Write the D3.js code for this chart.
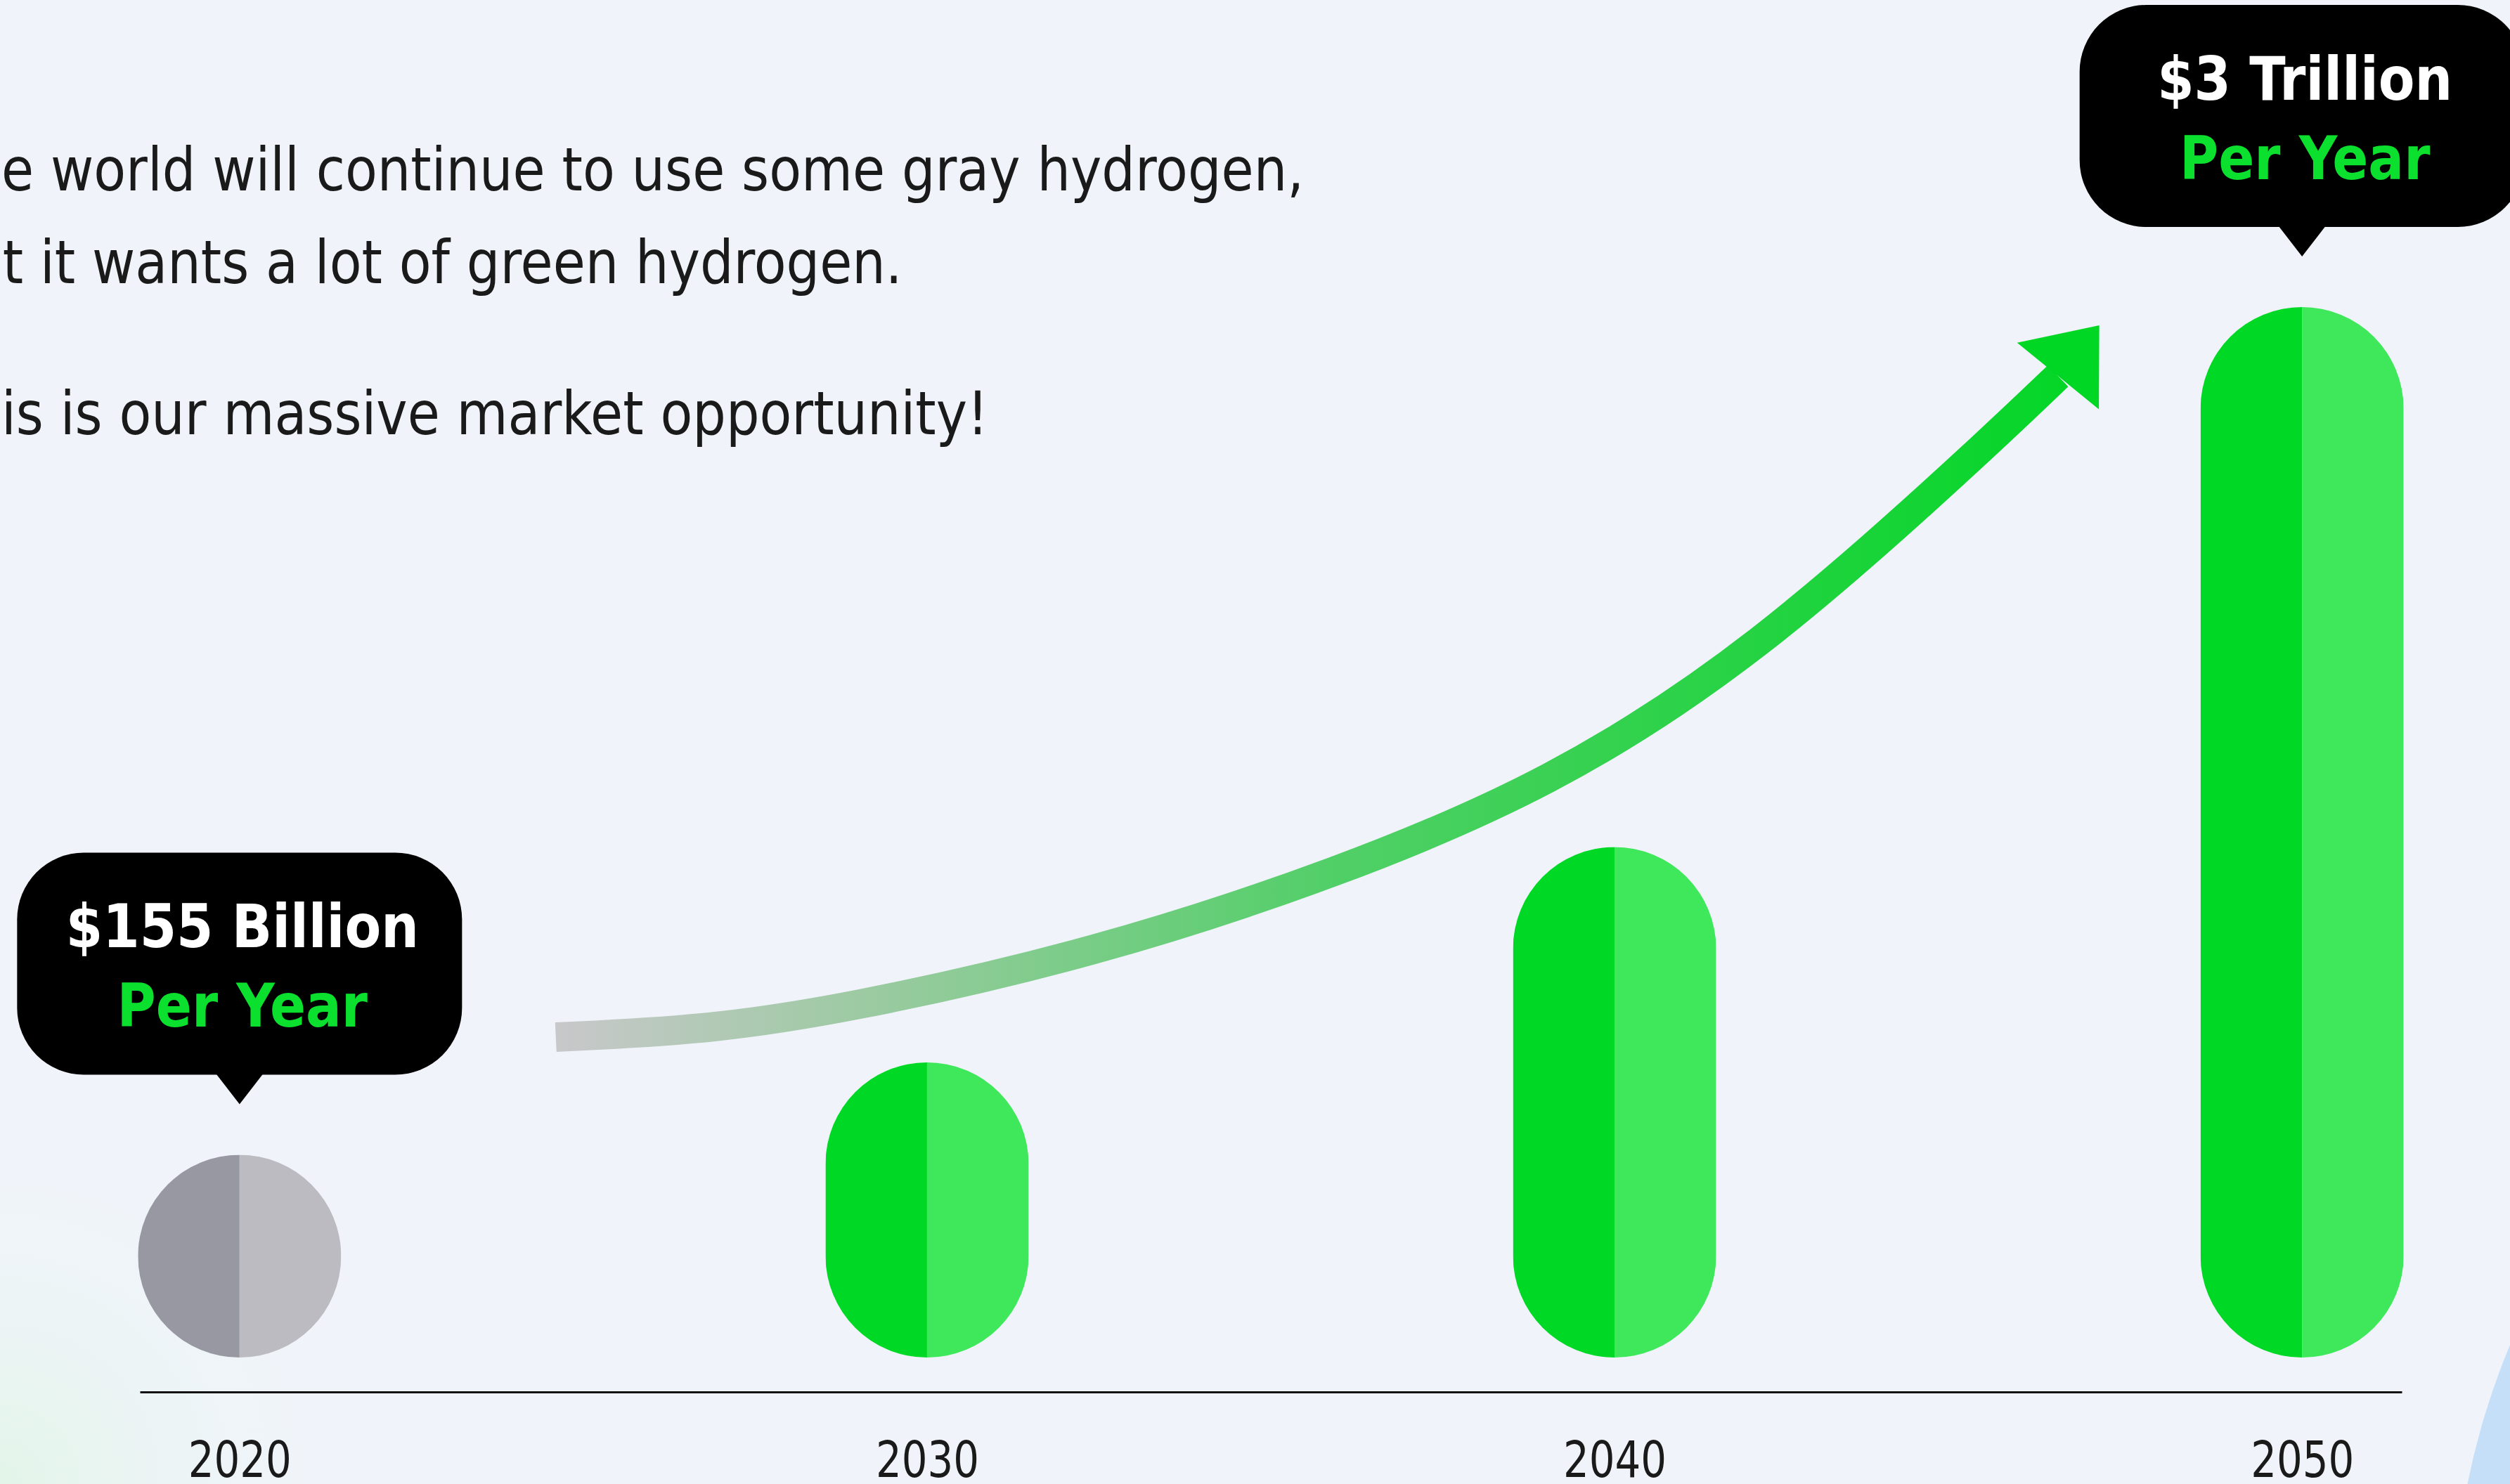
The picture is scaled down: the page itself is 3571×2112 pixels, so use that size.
<!DOCTYPE html>
<html><head><meta charset="utf-8">
<script src="https://cdn.jsdelivr.net/npm/d3@7"></script>
<style>html,body{margin:0;padding:0;background:#f0f4fa;overflow:hidden}</style>
</head><body>
<svg id="chart" width="3571" height="2112"></svg>
<script>
// ---------- data ----------
const years = ["2020", "2030", "2040", "2050"];
const relativeSize = [19.3, 28.1, 48.6, 100];          // bar heights, 2050 = 100
const barTone = ["gray", "green", "green", "green"];
const calloutYears = ["2020", "2050"];
const calloutValues = ["$155 Billion", "$3 Trillion"];
const calloutUnits = ["Per Year", "Per Year"];
const introLines = [
  "The world will continue to use some gray hydrogen,",
  "but it wants a lot of green hydrogen.",
  "This is our massive market opportunity!"
];
// growth arrow, in chart space: position along the year axis and relative size
const trendYears  = [2024.60, 2026.74, 2028.78, 2032.43, 2035.94, 2039.07, 2042.08, 2045.22, 2046.45];
const trendLevels = [30.50,   31.17,   33.11,   38.46,   46.02,   54.52,   67.22,   85.75,   93.44];
const trendTip = [2047.05, 98.26];

// ---------- setup ----------
const W = 3571, H = 2112;
const svg = d3.select("#chart");
const defs = svg.append("defs");
const palette = {
  gray:  ["#9898a2", "#bbbbc1"],
  green: ["#00d826", "#3fe85a"]
};

// background
svg.append("rect").attr("width", W).attr("height", H).attr("fill", "#f0f4fa");
const glow = defs.append("radialGradient").attr("id", "glow")
  .attr("gradientUnits", "userSpaceOnUse").attr("cx", 0).attr("cy", H).attr("r", 520);
glow.append("stop").attr("offset", 0).attr("stop-color", "#e2f5e8").attr("stop-opacity", 1);
glow.append("stop").attr("offset", 1).attr("stop-color", "#f0f4fa").attr("stop-opacity", 0);
svg.append("rect").attr("x", 0).attr("y", H - 520).attr("width", 520).attr("height", 520).attr("fill", "url(#glow)");
svg.append("circle").attr("cx", 4537).attr("cy", 2318).attr("r", 1047).attr("fill", "#c5dff8");

// scales
const x = d3.scalePoint().domain(years).range([199, 3417]).padding(0.145);
const y = d3.scaleLinear().domain([0, 100]).range([1932, 437]);
const xYear = d3.scaleLinear().domain([2020, 2050]).range([x("2020"), x("2050")]);
const barW = 289;

// ---------- intro text ----------
const tmp = svg.append("text").attr("font-family", "DejaVu Sans").attr("font-size", 85);
const measure = s => { tmp.text(s); return tmp.node().getComputedTextLength(); };
const visible1 = introLines[0].slice(2);
const sx = (1855 - 2) / measure(visible1);
const x0 = 2 - sx * measure(introLines[0].slice(0, 2));
const baselines = [271, 403, 618];
introLines.forEach((t, i) => {
  svg.append("text")
    .attr("x", x0).attr("y", baselines[i])
    .attr("font-family", "DejaVu Sans").attr("font-size", 85)
    .attr("fill", "#1a1a1a")
    .attr("textLength", sx * measure(t)).attr("lengthAdjust", "spacingAndGlyphs")
    .text(t);
});
tmp.remove();

// ---------- bars ----------
const bars = svg.append("g");
years.forEach((yr, i) => {
  const cx = x(yr), top = y(relativeSize[i]), bottom = y(0);
  const id = "clip" + yr;
  defs.append("clipPath").attr("id", id).append("rect")
    .attr("x", cx - barW / 2).attr("y", top).attr("width", barW).attr("height", bottom - top)
    .attr("rx", barW / 2).attr("ry", barW / 2);
  const g = bars.append("g").attr("clip-path", `url(#${id})`);
  g.append("rect").attr("x", cx - barW / 2).attr("y", top).attr("width", barW / 2).attr("height", bottom - top)
    .attr("fill", palette[barTone[i]][0]);
  g.append("rect").attr("x", cx).attr("y", top).attr("width", barW / 2).attr("height", bottom - top)
    .attr("fill", palette[barTone[i]][1]);
});

// ---------- axis ----------
const axisG = svg.append("g").attr("transform", "translate(0,1981)")
  .call(d3.axisBottom(x).tickSize(0).tickSizeOuter(0).tickPadding(70));
axisG.select(".domain").attr("stroke", "#111").attr("stroke-width", 3);
const tmp2 = svg.append("text").attr("font-family", "DejaVu Sans").attr("font-size", 72).text("2020");
const yearScale = 147 / tmp2.node().getComputedTextLength();
tmp2.remove();
axisG.selectAll(".tick text")
  .attr("y", 121).attr("dy", null)
  .attr("font-family", "DejaVu Sans").attr("font-size", 72).attr("fill", "#1a1a1a")
  .each(function () {
    d3.select(this).attr("textLength", yearScale * this.getComputedTextLength()).attr("lengthAdjust", "spacingAndGlyphs");
  });

// ---------- growth arrow ----------
const grad = defs.append("linearGradient").attr("id", "arrowGrad")
  .attr("gradientUnits", "userSpaceOnUse")
  .attr("x1", xYear(trendYears[0])).attr("x2", xYear(trendTip[0])).attr("y1", 0).attr("y2", 0);
grad.append("stop").attr("offset", 0).attr("stop-color", "#c8c8ca");
grad.append("stop").attr("offset", 0.2).attr("stop-color", "#9ccaa2");
grad.append("stop").attr("offset", 0.5).attr("stop-color", "#52cf68");
grad.append("stop").attr("offset", 1).attr("stop-color", "#00d624");
const pts = trendYears.map((t, i) => [xYear(t), y(trendLevels[i])]);
svg.append("path")
  .attr("d", d3.line().curve(d3.curveBasis)(pts))
  .attr("fill", "none").attr("stroke", "url(#arrowGrad)").attr("stroke-width", 42).attr("stroke-linecap", "butt");
const end = pts[pts.length - 1];
const tip = [xYear(trendTip[0]), y(trendTip[1])];
const dx = tip[0] - end[0], dy = tip[1] - end[1], len = Math.hypot(dx, dy);
const px = -dy / len, py = dx / len, half = 75;
svg.append("path")
  .attr("d", `M${tip[0]},${tip[1]}L${end[0] + px * half},${end[1] + py * half}L${end[0] - px * half},${end[1] - py * half}Z`)
  .attr("fill", "#00d624");

// ---------- callouts ----------
const boxW = 633, boxH = 316, boxR = 95, tipH = 42, tipHalf = 34, gapAbove = 72;
const tmp3 = svg.append("text").attr("font-family", "DejaVu Sans").attr("font-weight", "bold").attr("font-size", 86).text(calloutValues[0]);
const boldScale = 502 / tmp3.node().getComputedTextLength();
tmp3.remove();
calloutYears.forEach((yr, i) => {
  const cx = x(yr);
  const top = y(relativeSize[years.indexOf(yr)]);
  const tipY = top - gapAbove, boxBottom = tipY - tipH, boxTop = boxBottom - boxH;
  const g = svg.append("g");
  g.append("rect").attr("x", cx - boxW / 2).attr("y", boxTop).attr("width", boxW).attr("height", boxH)
    .attr("rx", boxR).attr("ry", boxR).attr("fill", "#000");
  g.append("path").attr("d", `M${cx - tipHalf},${boxBottom - 2}L${cx + tipHalf},${boxBottom - 2}L${cx},${tipY}Z`).attr("fill", "#000");
  [[calloutValues[i], "#ffffff", 135], [calloutUnits[i], "#0be02e", 248]].forEach(([t, c, dyy]) => {
    const tx = g.append("text").attr("x", cx + 4).attr("y", boxTop + dyy)
      .attr("text-anchor", "middle").attr("font-family", "DejaVu Sans").attr("font-weight", "bold")
      .attr("font-size", 86).attr("fill", c).text(t);
    tx.attr("textLength", boldScale * tx.node().getComputedTextLength()).attr("lengthAdjust", "spacingAndGlyphs");
  });
});
</script>
</body></html>
